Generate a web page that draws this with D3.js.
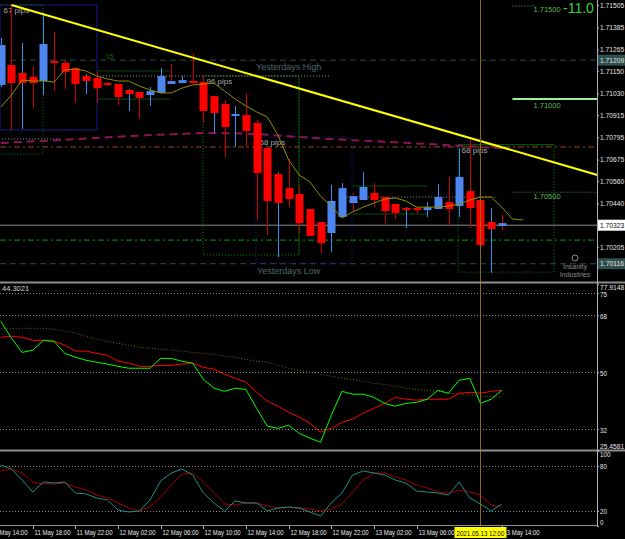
<!DOCTYPE html>
<html>
<head>
<meta charset="utf-8">
<script src="https://cdn.jsdelivr.net/npm/d3@7"></script>
<style>
    body { margin: 0; background: #000; }
    svg { display: block; }
    text { font-family: "Liberation Sans", Arial, sans-serif; }
</style>
</head>
<body>
<div id="chart"></div>
<script>
// H1 bars, index 0 = 11 May 15:00
const candleOpen  = [1.71076,1.71183,1.71140,1.71119,1.71097,1.71204,1.71194,1.71167,1.71124,1.71113,1.71086,1.71081,1.71049,1.71038,1.71022,1.71033,1.71081,1.71086,1.71097,1.71092,1.71016,1.70974,1.70909,1.70914,1.70871,1.70737,1.70598,1.70522,1.70490,1.70410,1.70340,1.70281,1.70367,1.70442,1.70458,1.70496,1.70474,1.70437,1.70415,1.70415,1.70404,1.70410,1.70447,1.70426,1.70506,1.70458,1.70340,1.70318];
const candleHigh  = [1.71328,1.71505,1.71301,1.71178,1.71462,1.71360,1.71210,1.71172,1.71135,1.71145,1.71092,1.71081,1.71054,1.71038,1.71065,1.71167,1.71188,1.71124,1.71247,1.71119,1.71016,1.70995,1.70963,1.71033,1.70888,1.70737,1.70608,1.70678,1.70533,1.70410,1.70340,1.70539,1.70549,1.70496,1.70608,1.70549,1.70474,1.70437,1.70420,1.70420,1.70447,1.70544,1.70582,1.70737,1.70780,1.70458,1.70415,1.70377];
const candleLow   = [1.71065,1.70835,1.70839,1.70952,1.71022,1.71043,1.71054,1.70979,1.71027,1.70979,1.71070,1.70968,1.70936,1.70893,1.70963,1.71033,1.71081,1.71086,1.71086,1.70871,1.70818,1.70689,1.70743,1.70743,1.70351,1.70270,1.70152,1.70420,1.70281,1.70265,1.70173,1.70179,1.70367,1.70394,1.70458,1.70420,1.70334,1.70356,1.70308,1.70388,1.70367,1.70410,1.70324,1.70367,1.70308,1.70120,1.70066,1.70297];
const candleClose = [1.71290,1.71086,1.71086,1.71086,1.71296,1.71194,1.71145,1.71081,1.71097,1.71059,1.71076,1.71011,1.71027,1.71006,1.71043,1.71124,1.71097,1.71102,1.71086,1.70936,1.70925,1.70850,1.70920,1.70829,1.70603,1.70453,1.70442,1.70463,1.70334,1.70265,1.70227,1.70453,1.70522,1.70479,1.70528,1.70458,1.70399,1.70388,1.70404,1.70404,1.70420,1.70474,1.70410,1.70582,1.70415,1.70216,1.70302,1.70334];
// direction of the real bar (wick colour): u = up, d = down
const wickDir = ["u","d","u","d","u","d","d","d","u","d","d","d","u","d","u","u","d","u","d","d","u","d","u","d","d","d","u","d","d","d","d","u","u","d","u","d","d","d","u","d","u","u","d","u","d","d","u","d"];

// moving average, shifted 2 bars forward (indices 0..49)
const maValues = [1.70957,1.71022,1.71102,1.71097,1.71097,1.71092,1.71156,1.71161,1.71151,1.71124,1.71108,1.71097,1.71097,1.71070,1.71049,1.71033,1.71033,1.71059,1.71076,1.71081,1.71086,1.71043,1.71000,1.70963,1.70931,1.70904,1.70807,1.70673,1.70592,1.70555,1.70479,1.70426,1.70361,1.70394,1.70420,1.70442,1.70463,1.70469,1.70453,1.70420,1.70420,1.70420,1.70426,1.70437,1.70458,1.70474,1.70474,1.70420,1.70356,1.70351];
// long moving average (magenta dashed)
const longMa = [1.70764,1.70767,1.70770,1.70773,1.70775,1.70779,1.70782,1.70785,1.70788,1.70791,1.70795,1.70798,1.70801,1.70804,1.70807,1.70809,1.70811,1.70814,1.70816,1.70818,1.70817,1.70816,1.70816,1.70815,1.70812,1.70809,1.70804,1.70800,1.70796,1.70793,1.70789,1.70786,1.70783,1.70779,1.70776,1.70774,1.70771,1.70768,1.70765,1.70762,1.70759,1.70756,1.70752,1.70749,1.70746,1.70742,1.70740,1.70737];

// RSI panel
const rsiMain   = [66.1,60.8,56.3,57.0,60.1,59.8,56.0,54.8,53.8,53.2,52.6,51.9,51.3,51.3,51.3,54.4,54.4,53.5,52.9,47.8,45.0,44.0,45.0,44.6,38.6,33.0,32.3,33.3,30.7,29.2,27.9,36.4,44.0,43.1,43.1,42.1,40.2,39.3,40.2,40.5,41.5,44.3,43.4,47.5,48.1,40.2,41.5,44.3];
const rsiSignal = [61.1,61.4,61.1,60.1,60.1,59.8,58.6,56.7,56.7,56.0,55.4,53.5,52.9,51.9,51.9,52.2,52.2,52.6,52.9,51.6,51.0,49.4,48.1,46.9,43.7,40.9,39.3,37.4,35.8,33.9,31.1,32.3,34.2,35.2,37.1,38.6,40.2,42.1,41.5,41.2,41.5,41.5,41.5,43.4,43.7,43.4,44.0,44.3];
const rsiSlow   = [63.9,63.9,63.9,63.9,63.9,63.6,63.0,62.4,61.4,60.5,59.8,59.2,58.6,57.9,57.6,57.3,57.0,56.7,56.3,56.0,55.7,55.1,54.8,54.1,53.5,53.2,52.2,51.3,50.7,50.0,49.4,48.8,48.1,47.8,47.2,46.5,46.2,45.6,45.0,44.6,44.3,44.0,43.4,43.1,42.8,42.4,42.4,42.1];
const rsiTicks = [77.9148, 75, 68, 50, 32, 25.4581];
const rsiLevels = [75, 68, 50, 32];

// Stochastic panel
const stochK = [81.3,76,61.3,45.3,58.7,57.3,58.7,44,42.7,37.3,34.7,21.3,18.7,20,34.7,60,70.7,76,68,44,30.7,20,33.3,30.7,30.7,20,24,25.3,24,18.7,13.3,30.7,44,68,73.3,70.7,68,61.3,57.3,46.7,45.3,44,41.3,58.7,37.3,29.3,20,29.3];
const stochD = [73.3,76,70.7,58.7,56,56,57.3,52,48,41.3,37.3,30.7,24,20,25.3,38.7,54.7,69.3,70.7,58.7,44,29.3,28,30.7,30.7,26.7,24,25.3,24,22.7,20,22.7,29.3,45.3,61.3,70.7,70.7,65.3,61.3,54.7,50.7,45.3,44,48,45.3,41.3,28,25.3];
const stochTicks = [100, 80, 20, 0];
const stochLevels = [80, 20];

// axis labels
const priceTicks = [1.71505,1.71385,1.71265,1.71150,1.71030,1.70915,1.70795,1.70675,1.70560,1.70440,1.70205];
const timeLabels = ["11 May 14:00","11 May 18:00","11 May 22:00","12 May 02:00","12 May 06:00","12 May 10:00","12 May 14:00","12 May 18:00","12 May 22:00","13 May 02:00","13 May 06:00","13 May 14:00"];
const timeIndex  = [-1,3,7,11,15,19,23,27,31,35,39,47];
const cursorIndex = 45;
const cursorLabel = "2021.05.13 12:00";

// levels and objects on the price chart
const yesterdayHigh = 1.71209;
const yesterdayLow = 1.70116;
const bidPrice = 1.70323;
const trend = { i: [1, 56], p: [1.71505, 1.70592] };
const boxes = [
    { i0: -0.08, i1: 9.02, hi: 1.71505, lo: 1.70834, color: "#1c1c8c", dash: null, label: "67 pips" },
    { i0: -9, i1: 3.96, hi: 1.71505, lo: 1.70705, color: "#0a7a0a", dash: "1,2", label: "" },
    { i0: 18.97, i1: 27.97, hi: 1.71124, lo: 1.70163, color: "#0a8a0a", dash: "1,2", label: "96 pips" },
    { i0: 23.94, i1: 32.95, hi: 1.70796, lo: 1.70120, color: "#1c1ca0", dash: "1,2", label: "68 pips" },
    { i0: 42.9, i1: 51.9, hi: 1.70755, lo: 1.70071, color: "#0a8a0a", dash: "1,2", label: "68 pips" }
];
const asiaRanges = [
    { i0: 9.02, i1: 15.9, hi: 1.71151, lo: 1.71000, label: "15" },
    { i0: 33, i1: 40, hi: 1.70533, lo: 1.70383, label: "" }
];
const dottedLevels = [
    { i0: -1, i1: 5.6, p: 1.70786 },
    { i0: 9.02, i1: 30.9, p: 1.71124 },
    { i0: 32.5, i1: 46.6, p: 1.70474 }
];
const fullLevels = [
    { p: 1.70743, color: "#9a4420", dash: "6,3,2,3" },
    { p: 1.70243, color: "#00a000", dash: "6,3,2,3" }
];
const targetLevels = [1.71500, 1.71000, 1.70500];

const W = 625, H = 539, plotRight = 597;
const charW = 3.45; // label width per character (narrow MT4 font)

var svg = d3.select("#chart").append("svg")
    .attr("width", W).attr("height", H)
    .style("background", "#000");

var x = d3.scaleLinear().domain([0, 47]).range([0.8, 501.8]);
var yP = d3.scaleLinear().domain([1.70018, 1.71532]).range([282, 0]);
var yR = d3.scaleLinear().domain([25.4581, 77.9148]).range([450, 284]);
var yS = d3.scaleLinear().domain([0, 100]).range([526, 451]);

var defs = svg.append("defs");
function clip(id, y0, y1) {
    defs.append("clipPath").attr("id", id)
        .append("rect").attr("x", 0).attr("y", y0).attr("width", plotRight).attr("height", y1 - y0);
}
clip("cMain", 0, 282);
clip("cRsi", 284, 450);
clip("cSto", 452, 525);

var main = svg.append("g").attr("clip-path", "url(#cMain)");

function hline(g, y, x0, x1, color, dash, w) {
    g.append("line")
        .attr("x1", x0).attr("x2", x1).attr("y1", y).attr("y2", y)
        .attr("stroke", color).attr("stroke-width", w || 1)
        .attr("stroke-dasharray", dash);
}

// yesterday high / low
hline(main, yP(yesterdayHigh), 0, plotRight, "#2e4a4a", "6,4");
hline(main, yP(yesterdayLow), 0, plotRight, "#2e4a4a", "6,4");
main.append("text").attr("x", x(27)).attr("y", yP(yesterdayHigh) + 10)
    .attr("text-anchor", "middle").attr("font-size", 9).attr("fill", "#4a6b6b").text("Yesterdays High");
main.append("text").attr("x", x(27)).attr("y", yP(yesterdayLow) + 10)
    .attr("text-anchor", "middle").attr("font-size", 9).attr("fill", "#4a6b6b").text("Yesterdays Low");

fullLevels.forEach(function(d) {
    hline(main, yP(d.p), 0, plotRight, d.color, d.dash);
});
hline(main, yP(bidPrice), 0, plotRight, "#8c8c8c", null);

// session boxes
boxes.forEach(function(b) {
    main.append("rect")
        .attr("x", x(b.i0)).attr("y", yP(b.hi))
        .attr("width", x(b.i1) - x(b.i0)).attr("height", yP(b.lo) - yP(b.hi))
        .attr("fill", "none").attr("stroke", b.color)
        .attr("stroke-dasharray", b.dash);
    if (b.label) {
        main.append("text").attr("x", x(b.i0) + 3.5).attr("y", yP(b.hi) + 8)
            .attr("font-size", 8).attr("fill", "#a8a8a8").text(b.label);
    }
});
hline(main, yP(boxes[4].hi), x(boxes[4].i0), x(boxes[4].i1), "#0b5a0b", null);
main.append("line").attr("x1", x(27.97)).attr("x2", x(27.97))
    .attr("y1", yP(boxes[2].hi)).attr("y2", yP(boxes[2].lo)).attr("stroke", "#0b4a0b");

asiaRanges.forEach(function(r) {
    hline(main, yP(r.hi), x(r.i0), x(r.i1), "#0b4a0b", null);
    hline(main, yP(r.lo), x(r.i0), x(r.i1), "#0b4a0b", null);
    if (r.label) {
        main.append("text").attr("x", x(r.i0) + 9).attr("y", yP(r.hi) - 12)
            .attr("font-size", 7).attr("fill", "#0b6a0b").text(r.label);
    }
});

dottedLevels.forEach(function(d) {
    hline(main, yP(d.p), x(d.i0), x(d.i1), "#9a9a9a", "1,2");
});

// long MA
var idx = d3.range(candleOpen.length);
main.append("path")
    .datum(longMa)
    .attr("fill", "none").attr("stroke", "#8a1458").attr("stroke-width", 2)
    .attr("stroke-dasharray", "8,5")
    .attr("d", d3.line().x(function(d, i) { return x(i); }).y(function(d) { return yP(d); }));

// target levels on the right
var tx0 = x(48);
hline(main, yP(targetLevels[0]), tx0, tx0 + 22, "#4fae4f", "1,2");
hline(main, yP(targetLevels[1]), tx0, plotRight, "#9af09a", null, 2);
hline(main, yP(targetLevels[2]), tx0, plotRight, "#3f9f3f", "1,2");
main.append("text").attr("x", tx0 + 21).attr("y", yP(targetLevels[0]) + 6)
    .attr("font-size", 7.5).attr("fill", "#5cb85c").text(targetLevels[0].toFixed(5));
main.append("text").attr("x", tx0 + 21).attr("y", yP(targetLevels[1]) + 9)
    .attr("font-size", 7.5).attr("fill", "#5cb85c").text(targetLevels[1].toFixed(5));
main.append("text").attr("x", tx0 + 21).attr("y", yP(targetLevels[2]) + 7)
    .attr("font-size", 7.5).attr("fill", "#5cb85c").text(targetLevels[2].toFixed(5));
main.append("text").attr("x", 563).attr("y", 13)
    .attr("font-size", 14).attr("fill", "#3fcf3f").text("-11.0");

// candles
var bodyW = 8;
var candles = main.selectAll(".candle")
    .data(idx)
    .enter().append("g")
    .attr("class", "candle");

candles.append("line")
    .attr("x1", function(i) { return Math.round(x(i)) + 0.5; })
    .attr("x2", function(i) { return Math.round(x(i)) + 0.5; })
    .attr("y1", function(i) { return yP(candleHigh[i]); })
    .attr("y2", function(i) { return yP(candleLow[i]); })
    .attr("stroke", function(i) { return wickDir[i] === "u" ? "#3a8ee8" : "#c80000"; });

candles.append("rect")
    .attr("x", function(i) { return Math.round(x(i)) + 0.5 - bodyW / 2; })
    .attr("y", function(i) { return yP(Math.max(candleOpen[i], candleClose[i])); })
    .attr("width", bodyW)
    .attr("height", function(i) {
        return Math.max(1.5, Math.abs(yP(candleOpen[i]) - yP(candleClose[i])));
    })
    .attr("fill", function(i) { return candleClose[i] > candleOpen[i] ? "#4d86ee" : "#ff0000"; });

// moving average
main.append("path")
    .datum(maValues)
    .attr("fill", "none").attr("stroke", "#8f8f00").attr("stroke-width", 1)
    .attr("d", d3.line().x(function(d, i) { return x(i); }).y(function(d) { return yP(d); }));

// trend line
main.append("line")
    .attr("x1", x(trend.i[0])).attr("y1", yP(trend.p[0]))
    .attr("x2", x(trend.i[1])).attr("y2", yP(trend.p[1]))
    .attr("stroke", "#ffff00").attr("stroke-width", 2);

// watermark
main.append("circle").attr("cx", 575).attr("cy", 258).attr("r", 3)
    .attr("fill", "none").attr("stroke", "#8a8a8a");
main.append("text").attr("x", 575).attr("y", 269).attr("text-anchor", "middle")
    .attr("font-size", 7).attr("fill", "#8a8a8a").text("Insanity");
main.append("text").attr("x", 575).attr("y", 277).attr("text-anchor", "middle")
    .attr("font-size", 7).attr("fill", "#8a8a8a").text("Industries");

// RSI panel
var rsi = svg.append("g").attr("clip-path", "url(#cRsi)");
rsiLevels.forEach(function(v) {
    hline(rsi, Math.round(yR(v)) + 0.5, 0, plotRight, "#8a8a8a", "1,2");
});
function series(g, data, scale, color, dash) {
    g.append("path")
        .datum(data)
        .attr("fill", "none").attr("stroke", color).attr("stroke-width", 1)
        .attr("stroke-dasharray", dash)
        .attr("d", d3.line().x(function(d, i) { return x(i); }).y(function(d) { return scale(d); }));
}
series(rsi, rsiSlow, yR, "#7a6400", "1,2");
series(rsi, rsiSignal, yR, "#ff0000");
series(rsi, rsiMain, yR, "#00ff00");
rsi.append("text").attr("x", 2).attr("y", 291).attr("font-size", 7.5)
    .attr("fill", "#d8d8d8").text("44.3021");

// Stochastic panel
var sto = svg.append("g").attr("clip-path", "url(#cSto)");
stochLevels.forEach(function(v) {
    hline(sto, Math.round(yS(v)) + 0.5, 0, plotRight, "#8a8a8a", "1,2");
});
series(sto, stochD, yS, "#a00000");
series(sto, stochK, yS, "#1f8f85");

// cursor line
svg.append("line")
    .attr("x1", Math.round(x(cursorIndex)) + 0.5).attr("x2", Math.round(x(cursorIndex)) + 0.5)
    .attr("y1", 0).attr("y2", 525)
    .attr("stroke", "#8b6a14");

// panel borders
hline(svg, 282.5, 0, W, "#8c8c8c", null, 2);
hline(svg, 450.5, 0, W, "#8c8c8c", null, 2);
hline(svg, 525.5, 0, plotRight + 0.5, "#8c8c8c", null);
svg.append("line").attr("x1", plotRight + 0.5).attr("x2", plotRight + 0.5)
    .attr("y1", 0).attr("y2", 526).attr("stroke", "#b0b0b0");

// right axes
function styleAxis(g) {
    g.select(".domain").remove();
    g.selectAll(".tick line").attr("stroke", "#b0b0b0");
    g.selectAll(".tick text").attr("fill", "#e6e6e6").attr("font-size", 7)
        .attr("font-family", "Liberation Sans, Arial, sans-serif").attr("x", 3)
        .attr("lengthAdjust", "spacingAndGlyphs")
        .attr("textLength", function() { return this.textContent.length * charW; });
}
svg.append("g").attr("transform", `translate(${plotRight},0)`)
    .call(d3.axisRight(yP).tickValues(priceTicks).tickSize(2).tickFormat(d3.format(".5f")))
    .call(styleAxis);

var rsiAxis = svg.append("g").attr("transform", `translate(${plotRight},0)`)
    .call(d3.axisRight(yR).tickValues(rsiTicks).tickSize(2)
        .tickFormat(function(d) { return Number.isInteger(d) ? d : d.toFixed(4); }))
    .call(styleAxis);
rsiAxis.selectAll(".tick text").attr("dy", function(d) {
    return d === rsiTicks[0] ? "0.75em" : d === rsiTicks[rsiTicks.length - 1] ? "-0.2em" : "0.4em";
});

var stoAxis = svg.append("g").attr("transform", `translate(${plotRight},0)`)
    .call(d3.axisRight(yS).tickValues(stochTicks).tickSize(2))
    .call(styleAxis);
stoAxis.selectAll(".tick text").attr("dy", function(d) {
    return d === 100 ? "0.8em" : d === 0 ? "-0.2em" : "0.32em";
});

// price tags on the axis
function tag(p, bg, fg) {
    var y = yP(p);
    var label = p.toFixed(5);
    svg.append("rect").attr("x", plotRight + 1).attr("y", y - 5.5)
        .attr("width", W - plotRight - 1).attr("height", 11).attr("fill", bg);
    svg.append("text").attr("x", plotRight + 3).attr("y", y + 2.5)
        .attr("font-size", 7).attr("fill", fg)
        .attr("lengthAdjust", "spacingAndGlyphs").attr("textLength", label.length * charW)
        .text(label);
}
tag(yesterdayHigh, "#2f4f4f", "#e0e0e0");
tag(bidPrice, "#ffffff", "#000000");
tag(yesterdayLow, "#2f4f4f", "#e0e0e0");

// time axis
var tAxis = svg.append("g");
timeLabels.forEach(function(t, k) {
    var tx = Math.round(x(timeIndex[k])) + 0.5;
    tAxis.append("line").attr("x1", tx).attr("x2", tx).attr("y1", 526).attr("y2", 529)
        .attr("stroke", "#b0b0b0");
    tAxis.append("text").attr("x", tx + 1).attr("y", 535)
        .attr("font-size", 7.5).attr("fill", "#e6e6e6")
        .attr("lengthAdjust", "spacingAndGlyphs").attr("textLength", t.length * 3.0)
        .text(t);
});
var cx = x(cursorIndex);
tAxis.append("rect").attr("x", cx - 26).attr("y", 527).attr("width", 52).attr("height", 11)
    .attr("fill", "#ffff00");
tAxis.append("text").attr("x", cx - 24).attr("y", 535.5)
    .attr("font-size", 7.5).attr("fill", "#000")
    .attr("lengthAdjust", "spacingAndGlyphs").attr("textLength", 48)
    .text(cursorLabel);
</script>
</body>
</html>
